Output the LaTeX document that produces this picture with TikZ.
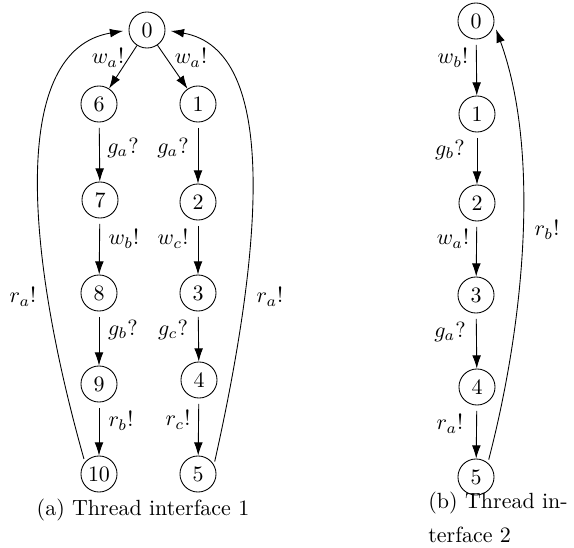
\documentclass[tikz,border=0pt]{standalone}
\usetikzlibrary{arrows.meta}
\begin{document}
\begin{tikzpicture}[x=0.455pt,y=-0.455pt,
  st/.style={circle,draw,minimum size=16.4pt,inner sep=0pt},
  tr/.style={-{Latex[length=6pt,width=4pt]}, shorten <=2.5pt},
  dg/.style={-{Latex[length=6pt,width=4pt]}},
  arc/.style={-{Latex[length=6pt,width=4pt]}, shorten <=1.5pt, shorten >=2.5pt},
  lbl/.style={inner sep=0pt}]
\useasboundingbox (0,0) rectangle (574,548);
% left graph
\node[st] (a0) at (147,30) {0};
\node[st] (a6) at (99,104) {6};
\node[st] (a1) at (198,104) {1};
\node[st] (a7) at (100,200) {7};
\node[st] (a2) at (198,202) {2};
\node[st] (a8) at (99,293) {8};
\node[st] (a3) at (198,293) {3};
\node[st] (a9) at (99,384) {9};
\node[st] (a4) at (199,380) {4};
\node[st] (a10) at (99,474) {10};
\node[st] (a5) at (198,474) {5};
\draw[dg] (a0) -- (a6);
\draw[dg] (a0) -- (a1);
\draw[tr] (a6) -- (a7);
\draw[tr] (a7) -- (a8);
\draw[tr] (a8) -- (a9);
\draw[tr] (a9) -- (a10);
\draw[tr] (a1) -- (a2);
\draw[tr] (a2) -- (a3);
\draw[tr] (a3) -- (a4);
\draw[tr] (a4) -- (a5);
\draw[arc] (a10.140) .. controls (25,250) and (10,50) .. (a0.180);
\draw[arc] (a5.30) .. controls (262,250) and (280,50) .. (a0.0);
\node[lbl] (la1) at (108,58) {$w_a!$};
\node[lbl] (la2) at (191,58) {$w_a!$};
\node[lbl] (la3) at (123,148) {$g_a?$};
\node[lbl] (la4) at (173,148) {$g_a?$};
\node[lbl] (la5) at (124,239) {$w_b!$};
\node[lbl] (la6) at (173,239) {$w_c!$};
\node[lbl] (la7) at (123,330) {$g_b?$};
\node[lbl] (la8) at (173,330) {$g_c?$};
\node[lbl] (la9) at (121,421) {$r_b!$};
\node[lbl] (la10) at (178,420) {$r_c!$};
\node[lbl] (la11) at (23,297) {$r_a!$};
\node[lbl] (la12) at (270,297) {$r_a!$};
\node[lbl] (capa) at (143,510) {(a) Thread interface 1};
% right graph
\node[st] (b0) at (476,21) {0};
\node[st] (b1) at (477,114) {1};
\node[st] (b2) at (477,203) {2};
\node[st] (b3) at (476,295) {3};
\node[st] (b4) at (477,387) {4};
\node[st] (b5) at (476,477) {5};
\draw[tr] (b0) -- (b1);
\draw[tr] (b1) -- (b2);
\draw[tr] (b2) -- (b3);
\draw[tr] (b3) -- (b4);
\draw[tr] (b4) -- (b5);
\draw[arc] (b5.50) .. controls (525,320) and (540,150) .. (b0.-10);
\node[lbl] (lb1) at (453,58) {$w_b!$};
\node[lbl] (lb2) at (450,150) {$g_b?$};
\node[lbl] (lb3) at (453,239) {$w_a!$};
\node[lbl] (lb4) at (450,332) {$g_a?$};
\node[lbl] (lb5) at (450,424) {$r_a!$};
\node[lbl] (lb6) at (547,230) {$r_b!$};
\node[lbl,anchor=west] (capb1) at (428,503) {(b) Thread in-};
\node[lbl,anchor=west] (capb2) at (428,535) {terface 2};
\end{tikzpicture}
\end{document}
